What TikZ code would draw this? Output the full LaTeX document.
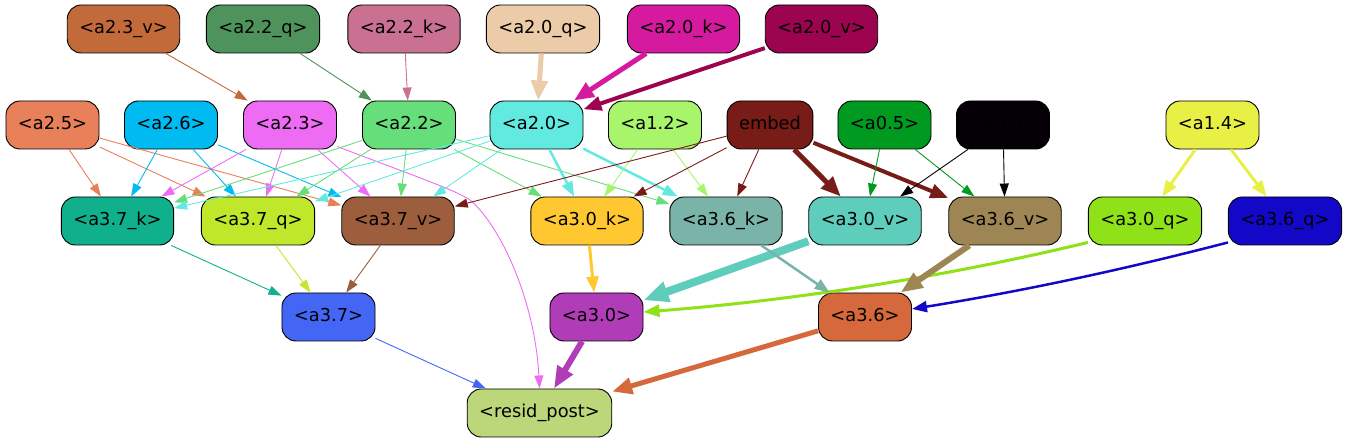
\documentclass[tikz,border=0pt]{standalone}
\usepackage{fontspec}
\newfontfamily\nodefont{DejaVu Sans}
\usetikzlibrary{arrows.meta}
\definecolor{c23v}{HTML}{C36A3A}
\definecolor{c22q}{HTML}{4E935C}
\definecolor{c22k}{HTML}{CA7090}
\definecolor{c20q}{HTML}{EBCBA8}
\definecolor{c20k}{HTML}{D61AA0}
\definecolor{c20v}{HTML}{9C0450}
\definecolor{c25}{HTML}{E8805A}
\definecolor{c26}{HTML}{00BAF2}
\definecolor{c23}{HTML}{EE6CF4}
\definecolor{c22}{HTML}{66DE7A}
\definecolor{c20}{HTML}{62EAE0}
\definecolor{c12}{HTML}{A8F56C}
\definecolor{cemb}{HTML}{781C18}
\definecolor{c05}{HTML}{009A20}
\definecolor{c00}{HTML}{050005}
\definecolor{c14}{HTML}{E8F045}
\definecolor{c37k}{HTML}{10B08C}
\definecolor{c37q}{HTML}{C0E82A}
\definecolor{c37v}{HTML}{9C5E3C}
\definecolor{c30k}{HTML}{FFC830}
\definecolor{c36k}{HTML}{7AB4A8}
\definecolor{c30v}{HTML}{5ECDBC}
\definecolor{c36v}{HTML}{9E8654}
\definecolor{c30q}{HTML}{90E218}
\definecolor{c36q}{HTML}{1408C8}
\definecolor{c37}{HTML}{4466F5}
\definecolor{c30}{HTML}{B03CB8}
\definecolor{c36}{HTML}{D6693C}
\definecolor{cres}{HTML}{BCD67A}
\tikzset{
  box/.style={draw=black, line width=0.9pt, rounded corners=14pt, minimum height=48pt,
    inner xsep=12pt, inner ysep=0pt, text height=13pt, text depth=4pt,
    font=\nodefont\fontsize{17.8}{20}\selectfont, text=black},
  ew/.style n args={3}{line width=#1, -{Triangle[length=#2,width=#3]}},
  ethin/.style={ew={0.9pt}{13pt}{9pt}},
  ethr/.style={ew={2.5pt}{15pt}{11pt}},
  eth/.style={ew={3pt}{16pt}{12pt}},
  efour/.style={ew={4pt}{18pt}{14pt}},
  efive/.style={ew={5pt}{20pt}{16pt}},
  esix/.style={ew={6pt}{22pt}{17pt}},
  eeight/.style={ew={8pt}{25pt}{20pt}},
}
\begin{document}
\begin{tikzpicture}[x=1pt,y=-1pt]
\useasboundingbox (0,0) rectangle (1347,443);
% row 1
\node[box, fill=c23v] (a23v) at (123.5,29) {<a2.3\_v>};
\node[box, fill=c22q] (a22q) at (263,29) {<a2.2\_q>};
\node[box, fill=c22k] (a22k) at (404,29) {<a2.2\_k>};
\node[box, fill=c20q] (a20q) at (543,29) {<a2.0\_q>};
\node[box, fill=c20k] (a20k) at (683.5,29) {<a2.0\_k>};
\node[box, fill=c20v] (a20v) at (821.5,29) {<a2.0\_v>};
% row 2
\node[box, fill=c25] (a25) at (52.5,125) {<a2.5>};
\node[box, fill=c26] (a26) at (171,125) {<a2.6>};
\node[box, fill=c23] (a23) at (290,125) {<a2.3>};
\node[box, fill=c22] (a22) at (409,125) {<a2.2>};
\node[box, fill=c20] (a20) at (536.5,125) {<a2.0>};
\node[box, fill=c12] (a12) at (655,125) {<a1.2>};
\node[box, fill=cemb] (emb) at (770,125) {embed};
\node[box, fill=c05] (a05) at (884.5,125) {<a0.5>};
\node[box, fill=c00] (a00) at (1003,125) {<a0.0>};
\node[box, fill=c14] (a14) at (1212.5,125) {<a1.4>};
% row 3
\node[box, fill=c37k] (a37k) at (117.5,221) {<a3.7\_k>};
\node[box, fill=c37q] (a37q) at (258,221) {<a3.7\_q>};
\node[box, fill=c37v] (a37v) at (398,221) {<a3.7\_v>};
\node[box, fill=c30k] (a30k) at (587,221) {<a3.0\_k>};
\node[box, fill=c36k] (a36k) at (726,221) {<a3.6\_k>};
\node[box, fill=c30v] (a30v) at (865,221) {<a3.0\_v>};
\node[box, fill=c36v] (a36v) at (1005,221) {<a3.6\_v>};
\node[box, fill=c30q] (a30q) at (1145,221) {<a3.0\_q>};
\node[box, fill=c36q] (a36q) at (1285,221) {<a3.6\_q>};
% row 4
\node[box, fill=c37] (a37) at (328.5,317) {<a3.7>};
\node[box, fill=c30] (a30) at (596.5,317) {<a3.0>};
\node[box, fill=c36] (a36) at (865,317) {<a3.6>};
% row 5
\node[box, fill=cres] (res) at (539.5,413) {<resid\_post>};
% edges row1 -> row2
\draw[ethin, c23v] (a23v) -- (a23);
\draw[ethin, c22q] (a22q) -- (a22);
\draw[ethin, c22k] (a22k) -- (a22);
\draw[efive, c20q] (a20q) -- (a20);
\draw[efive, c20k] (a20k) -- (a20);
\draw[efour, c20v] (a20v) -- (a20);
% row2 -> row3
\draw[ethin, c25] (a25) -- (a37k);
\draw[ethin, c25] (a25) -- (a37q);
\draw[ethin, c25] (a25) -- (a37v);
\draw[ethin, c26] (a26) -- (a37k);
\draw[ethin, c26] (a26) -- (a37q);
\draw[ethin, c26] (a26) -- (a37v);
\draw[ethin, c23] (a23) -- (a37k);
\draw[ethin, c23] (a23) -- (a37q);
\draw[ethin, c23] (a23) -- (a37v);
\draw[ethin, c23] ([yshift=3pt]a23.south east) .. controls (420,178) and (455,190) .. (470,200) .. controls (500,225) and (535,300) .. (res.north);
\draw[ethin, c22] (a22) -- (a37k);
\draw[ethin, c22] (a22) -- (a37q);
\draw[ethin, c22] (a22) -- (a37v);
\draw[ethin, c22] (a22) -- (a30k);
\draw[ethin, c22] (a22) -- (a36k);
\draw[ethin, c20] (a20) -- (a37k);
\draw[ethin, c20] (a20) -- (a37q);
\draw[ethin, c20] (a20) -- (a37v);
\draw[ethr, c20] (a20) -- (a30k);
\draw[ethr, c20] (a20) -- (a36k);
\draw[ethin, c12] (a12) -- (a30k);
\draw[ethin, c12] (a12) -- (a36k);
\draw[ethin, cemb] (emb) -- (a37v);
\draw[ethin, cemb] (emb) -- (a30k);
\draw[ethin, cemb] (emb) -- (a36k);
\draw[efive, cemb] (emb) -- (a30v);
\draw[efour, cemb] (emb) -- (a36v);
\draw[ethin, c05] (a05) -- (a30v);
\draw[ethin, c05] (a05) -- (a36v);
\draw[ethin, c00] (a00) -- (a30v);
\draw[ethin, c00] (a00) -- (a36v);
\draw[eth, c14] (a14) -- (a30q);
\draw[eth, c14] (a14) -- (a36q);
% row3 -> row4
\draw[ethin, c37k] (a37k) -- (a37);
\draw[ethin, c37q] (a37q) -- (a37);
\draw[ethin, c37v] (a37v) -- (a37);
\draw[eth, c30k] (a30k) -- (a30);
\draw[eeight, c30v] (a30v) -- (a30);
\draw[eth, c30q] ([yshift=3pt]a30q.south west) .. controls +(-137,33) and +(156,-12) .. ([yshift=5pt]a30.east);
\draw[ethr, c36k] (a36k) -- (a36);
\draw[esix, c36v] (a36v) -- (a36);
\draw[ethr, c36q] ([yshift=3pt]a36q.south west) .. controls +(-127,33) and +(87,-14) .. ([yshift=8pt]a36.east);
% row4 -> row5
\draw[ethin, c37] (a37) -- (res);
\draw[esix, c30] (a30) -- (res);
\draw[efive, c36] (a36) -- (res);
\end{tikzpicture}
\end{document}
